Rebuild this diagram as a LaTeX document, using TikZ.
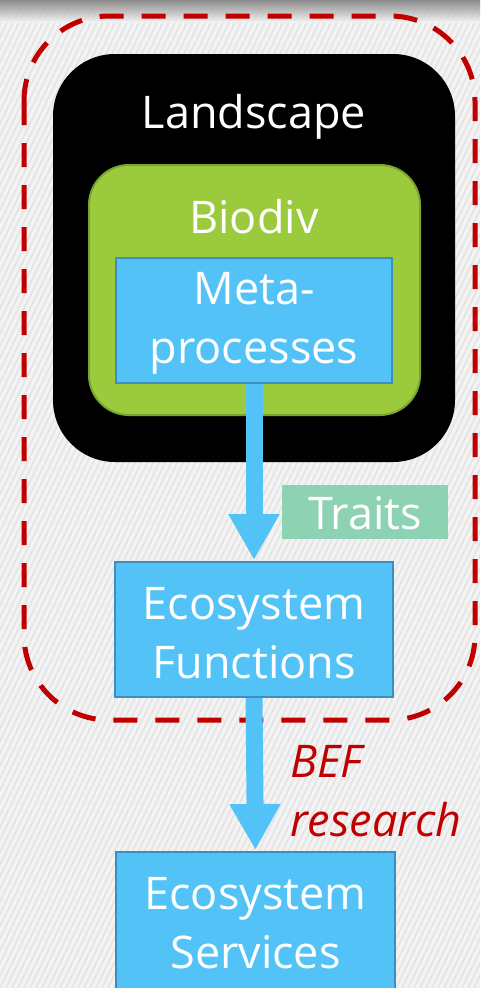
\documentclass[tikz,border=0pt]{standalone}
\usepackage{fontspec}
\setmainfont{Open Sans}
\usetikzlibrary{arrows.meta}
\definecolor{bgc}{HTML}{F3F3F3}
\definecolor{stripe}{HTML}{E4E4E4}
\definecolor{boxblue}{HTML}{53C3F7}
\definecolor{boxedge}{HTML}{3D8DBE}
\definecolor{leaf}{HTML}{9BCB3C}
\definecolor{leafedge}{HTML}{7AA52E}
\definecolor{mint}{HTML}{8ED2B4}
\definecolor{bef}{HTML}{C00000}
\tikzset{
  bigfont/.style={font=\fontsize{45}{59}\selectfont},
  bluebox/.style={draw=boxedge, line width=2pt, fill=boxblue, inner sep=0pt},
  boxtext/.style={text=white, bigfont, align=center, inner sep=0pt},
  flow/.style={draw=boxblue, line width=17pt, -{Triangle[width=48pt,length=46pt]}, shorten >=1pt},
}
\begin{document}
\begin{tikzpicture}[x=1pt,y=-1pt]
\useasboundingbox (0,0) rectangle (480,988);
% background
\fill[bgc] (0,0) rectangle (480,988);
\begin{scope}
\clip (0,0) rectangle (480,988);
\foreach \i in {0,6,...,1470} {
  \draw[stripe, line width=1.6pt] (\i-480,988) -- (\i,0);
}
\shade[top color=black!55, bottom color=bgc, opacity=0.8] (0,0) rectangle (480,22);
\end{scope}
% dashed region
\draw[bef, line width=5pt, dash pattern=on 24pt off 18pt, rounded corners=85pt] (24,16) rectangle (475,720);
% landscape
\node[fill=black, rounded corners=62pt, minimum width=402pt, minimum height=408pt, inner sep=0pt] (land) at (254,258) {};
\node[boxtext] (landlbl) at (254,117) {Landscape};
% biodiv
\node[fill=leaf, draw=leafedge, line width=2pt, rounded corners=40pt, minimum width=331pt, minimum height=250pt, inner sep=0pt] (bio) at (254.5,290) {};
\node[boxtext] (biolbl) at (254,217) {Biodiv};
% boxes
\node[bluebox, minimum width=276pt, minimum height=125pt] (meta) at (254,320.5) {};
\node[boxtext] (metalbl) at (254,323) {Meta-\\processes};
\node[bluebox, minimum width=278pt, minimum height=135pt] (ef) at (254,629.5) {};
\node[boxtext] (eflbl) at (254,633) {Ecosystem\\Functions};
\node[bluebox, minimum width=279pt, minimum height=150pt] (es) at (255.5,927) {};
\node[boxtext] (eslbl) at (255.5,923) {Ecosystem\\Services};
% arrows
\draw[flow] (meta.south) -- (ef.north);
\draw[flow] (ef.south) -- (es.north);
% labels
\node[fill=mint, minimum width=166pt, minimum height=54pt, inner sep=0pt] (traits) at (365,512) {};
\node[boxtext] (traitslbl) at (365,513) {Traits};
\node[text=bef, font=\fontsize{45}{59}\selectfont\itshape, align=left, anchor=west, inner sep=0pt] (beflbl) at (290,791) {BEF\\research};
\end{tikzpicture}
\end{document}
